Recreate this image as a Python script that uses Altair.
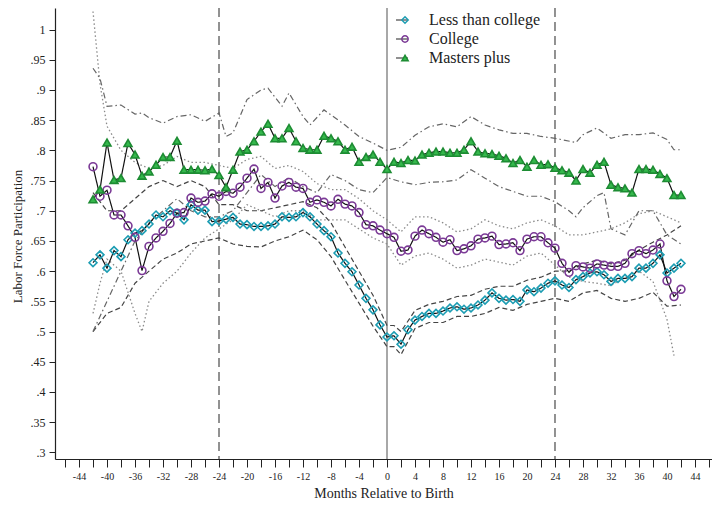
import altair as alt
import pandas as pd

months = list(range(-42, 43))
series_names = ["Less than college", "College", "Masters plus"]

less_college = [.614, .627, .605, .634, .624, .652, .663, .667, .678, .693,
                .690, .700, .696, .685, .710, .701, .701, .682, .683, .686,
                .689, .678, .677, .674, .674, .675, .678, .690, .689, .690,
                .697, .690, .678, .667, .657, .630, .613, .599, .577, .555,
                .536, .511, .491, .493, .479, .503, .519, .525, .530, .530,
                .534, .539, .541, .537, .539, .544, .552, .564, .555, .552,
                .553, .550, .569, .566, .572, .580, .584, .577, .573, .586,
                .591, .597, .599, .594, .583, .588, .588, .591, .605, .605,
                .613, .627, .597, .605, .613]
college = [.773, .724, .734, .693, .693, .675, .656, .601, .641, .655,
           .666, .679, .696, .697, .721, .714, .716, .728, .724, .732,
           .729, .739, .754, .769, .737, .747, .721, .741, .747, .739,
           .737, .714, .718, .714, .708, .719, .711, .708, .697, .677,
           .675, .668, .662, .656, .633, .635, .658, .668, .662, .656,
           .648, .652, .634, .637, .642, .653, .655, .658, .644, .645,
           .647, .634, .653, .657, .657, .647, .638, .613, .598, .609,
           .607, .605, .612, .610, .608, .608, .613, .629, .634, .629,
           .635, .645, .584, .558, .570]
masters = [.719, .735, .813, .751, .754, .812, .793, .758, .765, .776,
           .789, .789, .816, .768, .768, .768, .767, .769, .759, .739,
           .768, .798, .801, .815, .831, .844, .820, .820, .837, .815,
           .804, .801, .801, .824, .820, .815, .801, .806, .781, .789,
           .793, .781, .769, .781, .779, .784, .783, .793, .796, .798,
           .798, .796, .796, .801, .815, .798, .795, .794, .791, .787,
           .779, .784, .773, .784, .776, .777, .771, .767, .763, .750,
           .769, .763, .776, .781, .743, .739, .737, .730, .769, .769,
           .768, .761, .754, .726, .726]

# confidence bands
teal_band_m = [-42, -40, -38, -36, -34, -32, -30, -28, -26, -24, -22, -20, -18, -16, -14, -12,
               -10, -8, -6, -4, -2, 0, 1, 2, 4, 6, 8, 10, 12, 14, 16, 18, 20, 22, 24, 26, 28,
               30, 32, 34, 36, 38, 40, 42]
teal_upper = [.73, .70, .70, .72, .74, .75, .74, .75, .74, .71,
              .71, .70, .70, .705, .71, .715, .705, .68, .64, .60,
              .56, .51, .51, .50, .535, .545, .55, .558, .56, .57,
              .575, .575, .585, .59, .60, .60, .612, .618, .612, .618,
              .635, .648, .66, .675]
teal_lower = [.50, .53, .54, .58, .60, .62, .63, .645, .65, .655,
              .645, .641, .64, .65, .657, .668, .652, .624, .585, .547,
              .509, .475, .475, .462, .505, .515, .515, .525, .525, .53,
              .54, .535, .545, .55, .555, .55, .564, .568, .555, .55,
              .555, .565, .542, .544]

purple_up_m = [-42, -41, -40, -38, -36, -34, -32, -30, -28, -26, -24, -22, -20, -18, -16, -14,
               -12, -10, -8, -6, -4, -2, 0, 2, 4, 6, 8, 10, 12, 14, 16, 18, 20, 22, 24, 26,
               28, 30, 32, 34, 36, 38, 40, 42]
purple_upper = [1.03, .91, .84, .80, .78, .77, .775, .79, .78, .78,
                .775, .77, .785, .79, .77, .775, .765, .745, .735, .735,
                .72, .70, .685, .665, .69, .69, .68, .665, .67, .685,
                .675, .67, .68, .685, .675, .66, .66, .665, .67, .68,
                .695, .70, .69, .68]
purple_lo_m = [-42, -41, -40, -38, -36, -35, -34, -32, -30, -28, -26, -24, -22, -20, -18, -16,
               -14, -12, -10, -8, -6, -4, -2, 0, 2, 4, 6, 8, 10, 12, 14, 16, 18, 20, 22, 24,
               26, 28, 30, 32, 34, 36, 38, 40, 41]
purple_lower = [.53, .58, .62, .60, .53, .50, .55, .58, .60, .63,
                .655, .67, .685, .71, .70, .69, .70, .70, .685, .685,
                .685, .67, .655, .645, .61, .625, .63, .62, .605, .61,
                .62, .615, .61, .625, .63, .61, .59, .583, .58, .576,
                .59, .60, .583, .52, .46]

green_up_m = [-42, -41, -40, -38, -36, -35, -34, -32, -30, -28, -26, -24, -23, -22, -20, -18,
              -17, -15, -14, -12, -11, -9, -6, -4, -2, 0, 2, 4, 6, 8, 10, 12, 14, 16, 18, 20,
              22, 24, 27, 28, 30, 32, 34, 36, 38, 40, 41, 42]
green_upper = [.936, .919, .873, .875, .86, .862, .854, .845, .856, .859,
               .848, .862, .823, .829, .884, .90, .903, .873, .895, .856,
               .842, .867, .842, .823, .812, .80, .805, .825, .839, .844,
               .839, .856, .842, .834, .828, .828, .823, .82, .813, .826,
               .837, .82, .826, .826, .829, .818, .801, .801]
green_lo_m = [-42, -40, -38, -36, -34, -32, -30, -28, -26, -24, -22, -20, -18, -16, -14, -12,
              -10, -8, -6, -4, -2, 0, 2, 4, 6, 8, 10, 12, 14, 16, 18, 20, 22, 24, 26, 27, 28,
              30, 31, 32, 34, 36, 38, 40, 42]
green_lower = [.50, .55, .60, .65, .68, .70, .72, .70, .69, .69,
               .70, .73, .76, .74, .755, .74, .73, .76, .75, .735,
               .73, .755, .748, .743, .747, .748, .751, .768, .754, .74,
               .732, .724, .724, .715, .70, .69, .705, .725, .73, .67,
               .66, .70, .70, .66, .645]

x_ticks = list(range(-46, 47, 2))
y_ticks = [0.3, 0.35, 0.4, 0.45, 0.5, 0.55, 0.6, 0.65, 0.7, 0.75, 0.8, 0.85, 0.9, 0.95, 1.0]
dashed_refs = [-24, 24]
solid_refs = [0]

teal = "#1c9db3"
purple = "#7b3a96"
green_fill = "#35b84c"
green_edge = "#1d8c33"
FONT = "Liberation Serif"

rows = []
for name, vals in zip(series_names, [less_college, college, masters]):
    for m, v in zip(months, vals):
        rows.append({"month": m, "value": v, "series": name, "series_l": name})
df = pd.DataFrame(rows)


def band_df(ms, vs, key):
    return pd.DataFrame({"month": ms, "value": vs, "band": key})


teal_df = pd.concat([band_df(teal_band_m, teal_upper, "up"), band_df(teal_band_m, teal_lower, "lo")])
purple_df = pd.concat([band_df(purple_up_m, purple_upper, "up"), band_df(purple_lo_m, purple_lower, "lo")])
green_df = pd.concat([band_df(green_up_m, green_upper, "up"), band_df(green_lo_m, green_lower, "lo")])

x_scale = alt.Scale(domain=[-47.43, 46.43], nice=False, zero=False)
y_scale = alt.Scale(domain=[0.289, 1.0357], nice=False, zero=False)

x_axis = alt.Axis(values=x_ticks,
                  labelExpr="datum.value % 4 == 0 ? '' + datum.value : ''",
                  tickSize=8, tickColor="#222", domainColor="#222", domainWidth=1.2,
                  labelFont=FONT, labelFontSize=10, labelColor="#222", labelPadding=4,
                  labelFlush=False, labelOverlap=False,
                  title="Months Relative to Birth", titleFont=FONT, titleFontSize=14,
                  titleFontWeight="normal", titleColor="#222", titleY=38,
                  titleBaseline="alphabetic", grid=False)
y_axis = alt.Axis(values=y_ticks,
                  labelExpr="datum.value == 1 ? '1' : substring(format(datum.value, '.2~f'), 1)",
                  tickSize=6, tickColor="#222", domainColor="#222", domainWidth=1.2,
                  labelFont=FONT, labelFontSize=12, labelColor="#222", labelPadding=4,
                  title="Labor Force Participation", titleFont=FONT, titleFontSize=13,
                  titleFontWeight="normal", titleColor="#222", titleAngle=270,
                  titleX=-38, titleY=228, titleAlign="center", titleBaseline="middle",
                  grid=False)

X = alt.X("month:Q", scale=x_scale, axis=x_axis)
Y = alt.Y("value:Q", scale=y_scale, axis=y_axis)

ref_dashed = alt.Chart(pd.DataFrame({"month": dashed_refs})).mark_rule(
    color="#6e6e6e", strokeWidth=1.5, strokeDash=[9, 5]).encode(x=X)
ref_solid = alt.Chart(pd.DataFrame({"month": solid_refs})).mark_rule(
    color="#6e6e6e", strokeWidth=1.2).encode(x=X)

teal_band = alt.Chart(teal_df).mark_line(
    color="#444444", strokeWidth=1.2, strokeDash=[5, 3]).encode(x=X, y=Y, detail="band:N")
purple_band = alt.Chart(purple_df).mark_line(
    color="#8a8a8a", strokeWidth=1.3, strokeDash=[1.5, 2.5]).encode(x=X, y=Y, detail="band:N")
green_band = alt.Chart(green_df).mark_line(
    color="#666666", strokeWidth=1.2, strokeDash=[6, 3, 1.5, 3]).encode(x=X, y=Y, detail="band:N")

leg_line = alt.Legend(title=None, orient="none", legendX=339, legendY=4,
                      symbolType="stroke", symbolStrokeColor="#222", symbolSize=144,
                      symbolStrokeWidth=1.2, labelFont=FONT, labelFontSize=16,
                      labelColor="#222", labelOffset=19, rowPadding=3, padding=0)
leg_shape = alt.Legend(title=None, orient="none", legendX=342, legendY=4,
                       symbolSize=40, symbolStrokeWidth=1.5, labelFont=FONT,
                       labelFontSize=16, labelExpr="''", labelOffset=0,
                       rowPadding=3, padding=0)

lines = alt.Chart(df).mark_line(color="#111111", strokeWidth=1.2).encode(
    x=X, y=Y,
    strokeDash=alt.StrokeDash("series_l:N", sort=series_names,
                              scale=alt.Scale(range=[[1, 0], [1, 0], [1, 0]]),
                              legend=leg_line),
)
points = alt.Chart(df).mark_point(size=62, strokeWidth=1.6, opacity=1).encode(
    x=X, y=Y,
    shape=alt.Shape("series:N", scale=alt.Scale(domain=series_names,
                                                 range=["diamond", "circle", "triangle-up"]),
                    legend=leg_shape),
    stroke=alt.Stroke("series:N", scale=alt.Scale(domain=series_names,
                                                   range=[teal, purple, green_edge]),
                      legend=leg_shape),
    fill=alt.Fill("series:N", scale=alt.Scale(domain=series_names,
                                               range=["transparent", "transparent", green_fill]),
                  legend=leg_shape),
)

chart = alt.layer(ref_dashed, ref_solid, teal_band, purple_band, green_band, lines, points).properties(
    width=657, height=451,
    autosize=alt.AutoSizeParams(type="none"),
    padding={"left": 47, "top": 0, "right": 0, "bottom": 42},
    background="white",
).configure_view(stroke=None)

chart.save("out.html", embed_options={"renderer": "svg", "actions": False})
